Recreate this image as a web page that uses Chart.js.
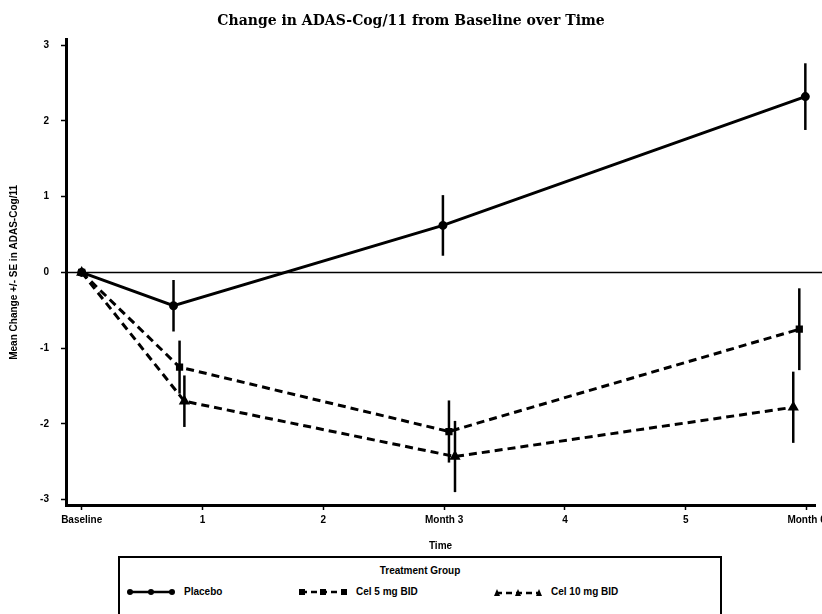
<!DOCTYPE html>
<html>
<head>
<meta charset="utf-8">
<script src="https://cdn.jsdelivr.net/npm/chart.js@4"></script>
<style>
  html, body { margin: 0; padding: 0; background: #fff; }
  #wrap { position: relative; width: 822px; height: 614px; overflow: hidden; }
  #chart { position: absolute; left: 0; top: 0; }
  .legend {
    position: absolute; left: 118px; top: 556px; width: 600px; height: 70px;
    border: 2px solid #000; font: bold 10px "Liberation Sans", Arial, sans-serif; color: #000;
  }
  .legend .ttl { position: absolute; top: 7px; width: 100%; text-align: center; }
  .legend .item { position: absolute; top: 28px; display: flex; align-items: center; }
  .legend svg { margin-right: 8px; }
</style>
</head>
<body>
<div id="wrap">
  <canvas id="chart" width="822" height="556"></canvas>
  <div class="legend">
    <div class="ttl">Treatment Group</div>
    <div class="item" style="left:6px">
      <svg width="50" height="10"><line x1="3" y1="5" x2="47" y2="5" stroke="#000" stroke-width="2.5"/>
        <circle cx="4" cy="5" r="3"/><circle cx="25" cy="5" r="3"/><circle cx="46" cy="5" r="3"/></svg>
      <span>Placebo</span>
    </div>
    <div class="item" style="left:178px">
      <svg width="50" height="10"><line x1="3" y1="5" x2="47" y2="5" stroke="#000" stroke-width="2.5" stroke-dasharray="6,4"/>
        <rect x="1" y="2" width="6" height="6"/><rect x="22" y="2" width="6" height="6"/><rect x="43" y="2" width="6" height="6"/></svg>
      <span>Cel 5 mg BID</span>
    </div>
    <div class="item" style="left:373px">
      <svg width="50" height="10"><line x1="3" y1="6" x2="47" y2="6" stroke="#000" stroke-width="2.5" stroke-dasharray="6,4"/>
        <polygon points="1,9 4,2 7,9"/><polygon points="22,9 25,2 28,9"/><polygon points="43,9 46,2 49,9"/></svg>
      <span>Cel 10 mg BID</span>
    </div>
  </div>
</div>
<script>
// time in months, mean change and SE
const xTickLabels = ['Baseline', '1', '2', 'Month 3', '4', '5', 'Month 6'];
const yTicks = [-3, -2, -1, 0, 1, 2, 3];

const placeboTime = [0, 0.76, 2.99, 5.99];
const placeboMean = [0, -0.44, 0.62, 2.32];
const placeboSE = [0, 0.34, 0.40, 0.44];

const lowDoseTime = [0, 0.81, 3.04, 5.94];
const lowDoseMean = [0, -1.25, -2.10, -0.75];
const lowDoseSE = [0, 0.35, 0.41, 0.54];

const highDoseTime = [0, 0.85, 3.09, 5.89];
const highDoseMean = [0, -1.70, -2.43, -1.78];
const highDoseSE = [0, 0.34, 0.47, 0.47];

const pts = (xs, ys) => xs.map((x, i) => ({ x: x, y: ys[i] }));

// error bars + zero reference line
const errorBars = {
  id: 'errorBars',
  afterDatasetsDraw(chart) {
    const { ctx, scales: { x, y }, chartArea } = chart;
    ctx.save();
    ctx.strokeStyle = '#000';
    ctx.lineWidth = 1.5;
    ctx.beginPath();
    ctx.moveTo(chartArea.left, y.getPixelForValue(0));
    ctx.lineTo(822, y.getPixelForValue(0));
    ctx.stroke();
    ctx.lineWidth = 2.5;
    chart.data.datasets.forEach(ds => {
      ds.data.forEach((p, i) => {
        const se = ds.se[i];
        if (!se) return;
        const px = x.getPixelForValue(p.x);
        ctx.beginPath();
        ctx.moveTo(px, y.getPixelForValue(p.y - se));
        ctx.lineTo(px, y.getPixelForValue(p.y + se));
        ctx.stroke();
      });
    });
    ctx.restore();
  }
};

const tickFont = { family: 'Liberation Sans', size: 10, weight: 'bold' };

new Chart(document.getElementById('chart'), {
  type: 'line',
  data: {
    datasets: [
      {
        label: 'Placebo', data: pts(placeboTime, placeboMean), se: placeboSE,
        borderColor: '#000', backgroundColor: '#000', borderWidth: 3,
        pointStyle: 'circle', pointRadius: 3
      },
      {
        label: 'Cel 5 mg BID', data: pts(lowDoseTime, lowDoseMean), se: lowDoseSE,
        borderColor: '#000', backgroundColor: '#000', borderWidth: 3, borderDash: [8, 5],
        pointStyle: 'rect', pointRadius: 3
      },
      {
        label: 'Cel 10 mg BID', data: pts(highDoseTime, highDoseMean), se: highDoseSE,
        borderColor: '#000', backgroundColor: '#000', borderWidth: 3, borderDash: [8, 5],
        pointStyle: 'triangle', pointRadius: 3.5
      }
    ]
  },
  options: {
    responsive: false,
    animation: false,
    layout: { padding: 0 },
    plugins: {
      legend: { display: false },
      tooltip: { enabled: false },
      title: {
        display: true,
        text: 'Change in ADAS-Cog/11 from Baseline over Time',
        color: '#000',
        font: { family: 'DejaVu Serif', size: 14, weight: 'bold' },
        padding: { top: 13, bottom: 10 }
      }
    },
    scales: {
      x: {
        type: 'linear', min: -0.13, max: 6.07,
        afterBuildTicks: s => { s.ticks = xTickLabels.map((l, i) => ({ value: i })); },
        afterFit: s => { s.height = 51; s.paddingLeft = 0; s.paddingRight = 0; },
        ticks: {
          color: '#000', font: tickFont, padding: 4, maxRotation: 0, autoSkip: false,
          callback: v => xTickLabels[v]
        },
        grid: { drawOnChartArea: false, drawTicks: true, tickLength: 5, tickWidth: 1.5, color: '#000' },
        border: { display: true, color: '#000', width: 3 },
        title: { display: true, text: 'Time', color: '#000', font: tickFont, padding: { top: 0 } }
      },
      y: {
        type: 'linear', min: -3.07, max: 3.07,
        afterBuildTicks: s => { s.ticks = yTicks.map(v => ({ value: v })); },
        afterFit: s => { s.width = 66; },
        ticks: { color: '#000', font: tickFont, padding: 12 },
        grid: { drawOnChartArea: false, drawTicks: true, tickLength: 5, tickWidth: 1.5, color: '#000' },
        border: { display: true, color: '#000', width: 3 },
        title: {
          display: true, text: 'Mean Change +/- SE in ADAS-Cog/11', color: '#000',
          font: { family: 'Liberation Sans', size: 10, weight: 'bold' }, padding: { top: 8, bottom: 4 }
        }
      }
    }
  },
  plugins: [errorBars]
});
</script>
</body>
</html>
